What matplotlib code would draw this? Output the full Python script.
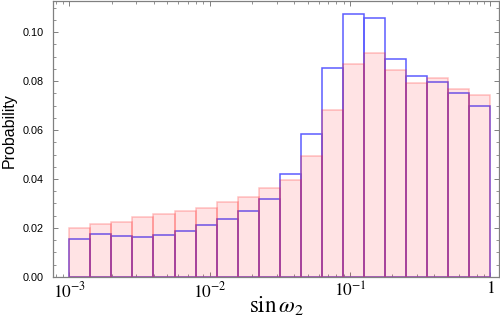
import numpy as np
import matplotlib
matplotlib.use("Agg")
import matplotlib.pyplot as plt
from matplotlib.ticker import FixedLocator, FixedFormatter, MultipleLocator, FormatStrFormatter

# ---- data ----
bin_exponents = np.linspace(-3, 0, 21)          # 20 log-spaced bins from 1e-3 to 1
bin_edges = 10.0 ** bin_exponents
pink_probs = [0.0198, 0.0215, 0.0226, 0.0245, 0.0256, 0.0271, 0.0281, 0.0305,
              0.0328, 0.0363, 0.0395, 0.0492, 0.0681, 0.0869, 0.0915, 0.0845,
              0.0793, 0.0814, 0.0766, 0.0744]
blue_probs = [0.0155, 0.0177, 0.0165, 0.0161, 0.0172, 0.0187, 0.0210, 0.0238,
              0.0270, 0.0319, 0.0421, 0.0582, 0.0852, 0.1073, 0.1057, 0.0889,
              0.0820, 0.0795, 0.0750, 0.0698]
xtick_values = [1e-3, 1e-2, 1e-1, 1]
xtick_labels = [r'$10^{-3}$', r'$10^{-2}$', r'$10^{-1}$', r'$1$']
y_label = "Probability"
x_label = r'$\sin\omega_2$'

plt.rcParams['font.family'] = ['Liberation Sans', 'DejaVu Sans']
plt.rcParams['mathtext.fontset'] = 'stix'

fig = plt.figure(figsize=(5, 3.2), dpi=100)
ax = fig.add_axes([0.106, 0.135, 0.892, 0.862])

lefts = bin_edges[:-1]
widths = np.diff(bin_edges)

# blue outline histogram (drawn first)
ax.bar(lefts, blue_probs, width=widths, align='edge', facecolor='none',
       edgecolor=(0.36, 0.36, 1.0), linewidth=1.1, zorder=2)
# pink filled histogram on top with translucent fill/edges
ax.bar(lefts, pink_probs, width=widths, align='edge',
       facecolor=(1.0, 0.0, 0.05, 0.11), edgecolor=(1.0, 0.15, 0.15, 0.27),
       linewidth=1.1, zorder=3)

ax.set_xscale('log')
ax.set_xlim(10 ** -3.116, 10 ** 0.062)
ax.set_ylim(0, 0.1128)

ax.xaxis.set_major_locator(FixedLocator(xtick_values))
ax.xaxis.set_major_formatter(FixedFormatter(xtick_labels))
minor = [m * 10.0 ** e for e in range(-4, 1) for m in range(2, 10)]
ax.xaxis.set_minor_locator(FixedLocator(minor))
ax.xaxis.set_minor_formatter(FixedFormatter([''] * len(minor)))

ax.yaxis.set_major_locator(MultipleLocator(0.02))
ax.yaxis.set_minor_locator(MultipleLocator(0.005))
ax.yaxis.set_major_formatter(FormatStrFormatter('%.2f'))

gray = '#808080'
for s in ax.spines.values():
    s.set_color(gray)
    s.set_linewidth(0.9)

ax.tick_params(which='both', direction='in', top=True, right=True, color=gray)
ax.tick_params(which='major', length=3.6, width=0.7)
ax.tick_params(which='minor', length=2.0, width=0.6)
ax.tick_params(axis='y', which='major', labelsize=7.8, pad=7, labelcolor='black')
ax.tick_params(axis='x', which='major', labelsize=12.5, pad=2.5, labelcolor='black')

ax.set_ylabel(y_label, fontsize=11.5)
ax.yaxis.set_label_coords(-0.082, 0.53)
ax.set_xlabel(x_label, fontsize=16.5, labelpad=-4.5)

fig.savefig('out.png', dpi=100)
